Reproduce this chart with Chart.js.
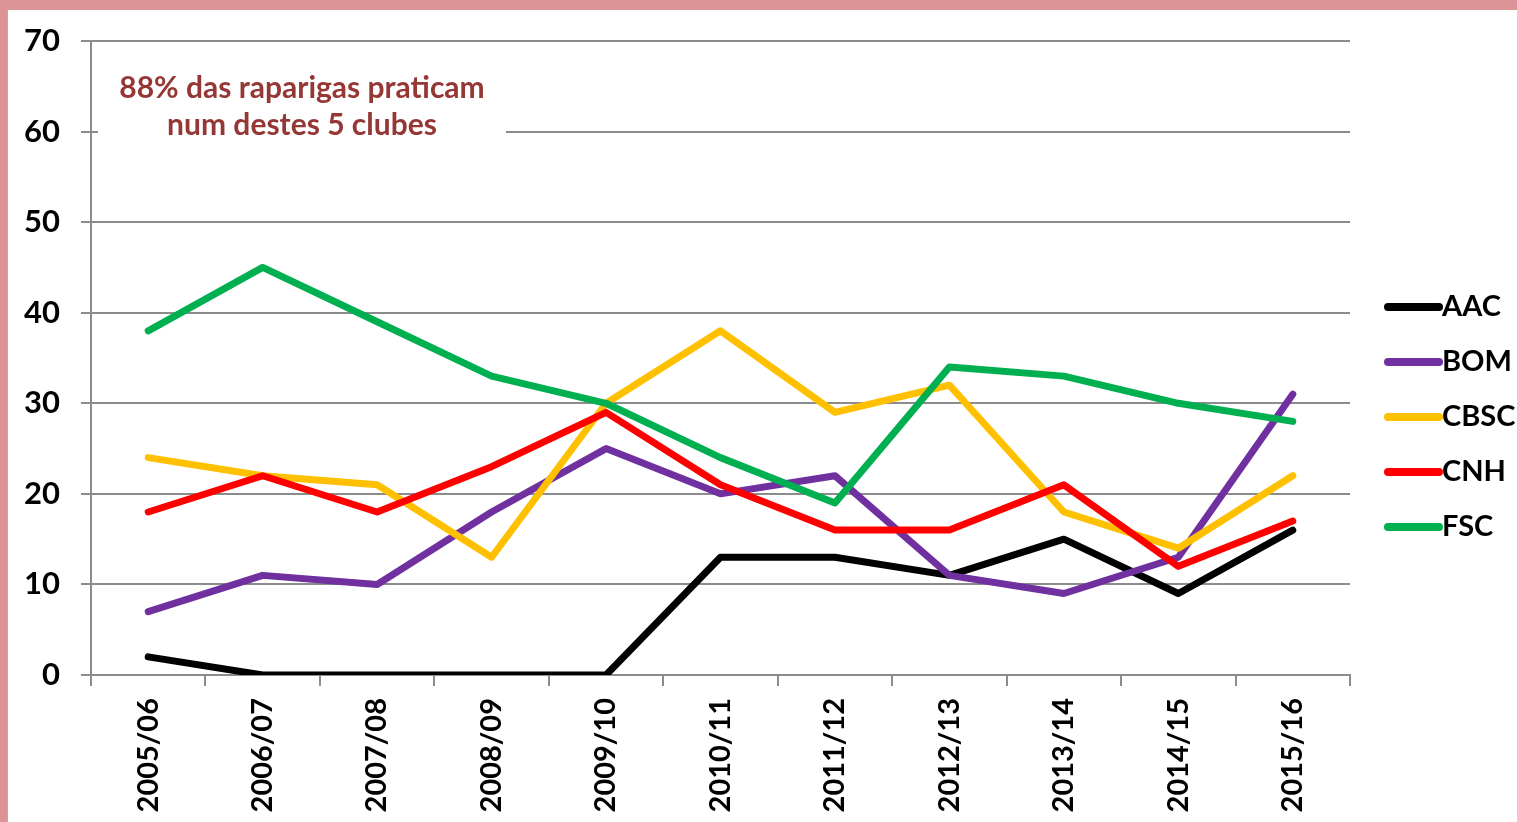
<!DOCTYPE html>
<html>
<head>
<meta charset="utf-8">
<script src="https://cdn.jsdelivr.net/npm/chart.js@4"></script>
<style>
  html, body { margin: 0; padding: 0; background: #dc9497; width: 1517px; height: 822px; overflow: hidden; }
  #wrap { position: absolute; left: 7px; top: 10px; width: 1510px; height: 812px; background: #fff; border-left: 1px solid #b0b0b0; box-sizing: border-box; }
</style>
</head>
<body>
<div id="wrap"><canvas id="chart"></canvas></div>
<script>
// ---- data ----
const seasons = ['2005/06', '2006/07', '2007/08', '2008/09', '2009/10', '2010/11', '2011/12', '2012/13', '2013/14', '2014/15', '2015/16'];
const aac  = [2, 0, 0, 0, 0, 13, 13, 11, 15, 9, 16];
const bom  = [7, 11, 10, 18, 25, 20, 22, 11, 9, 13, 31];
const cbsc = [24, 22, 21, 13, 30, 38, 29, 32, 18, 14, 22];
const cnh  = [18, 22, 18, 23, 29, 21, 16, 16, 21, 12, 17];
const fsc  = [38, 45, 39, 33, 30, 24, 19, 34, 33, 30, 28];
const clubNames = ['AAC', 'BOM', 'CBSC', 'CNH', 'FSC'];
const clubColors = ['#000000', '#7030a0', '#ffc000', '#ff0000', '#00b050'];
const yTicks = [0, 10, 20, 30, 40, 50, 60, 70];
const noteLines = ['88% das raparigas praticam', 'num destes 5 clubes'];

const FONT = 'Lato, "Open Sans", sans-serif';
const GRID = '#8c8c8c';

// Excel draws later series on top; chart.js draws lower "order" on top
const datasets = [aac, bom, cbsc, cnh, fsc].map((vals, i) => ({
    label: clubNames[i],
    data: vals,
    borderColor: clubColors[i],
    backgroundColor: clubColors[i],
    borderWidth: 7,
    pointRadius: 0,
    tension: 0,
    borderCapStyle: 'round',
    borderJoinStyle: 'round',
    order: clubNames.length - i
}));

// white box with the note, painted over the gridlines
const notePlugin = {
    id: 'note',
    beforeDatasetsDraw(chart) {
        const { ctx, chartArea } = chart;
        ctx.save();
        ctx.fillStyle = '#fff';
        ctx.fillRect(chartArea.left + 7, chartArea.top + 18, 408, 95);
        ctx.fillStyle = '#953735';
        ctx.font = 'bold 30px ' + FONT;
        ctx.textAlign = 'center';
        ctx.textBaseline = 'middle';
        const cx = chartArea.left + 211;
        noteLines.forEach((t, i) => ctx.fillText(t, cx, chartArea.top + 47 + i * 37));
        ctx.restore();
    }
};

// legend on the right, line sample touching the label like in Excel
const legendPlugin = {
    id: 'sideLegend',
    afterDraw(chart) {
        const { ctx, chartArea } = chart;
        ctx.save();
        ctx.font = 'bold 29px ' + FONT;
        ctx.textBaseline = 'middle';
        chart.data.datasets.forEach((ds, i) => {
            const y = chartArea.top + 266 + i * 55;
            const x0 = chartArea.right + 38;
            ctx.strokeStyle = ds.borderColor;
            ctx.lineWidth = 8;
            ctx.lineCap = 'round';
            ctx.beginPath();
            ctx.moveTo(x0, y);
            ctx.lineTo(x0 + 51, y);
            ctx.stroke();
            ctx.fillStyle = '#000';
            ctx.fillText(ds.label, x0 + 54, y);
        });
        ctx.restore();
    }
};

new Chart(document.getElementById('chart'), {
    type: 'line',
    data: { labels: seasons, datasets },
    plugins: [notePlugin, legendPlugin],
    options: {
        responsive: true,
        maintainAspectRatio: false,
        animation: false,
        layout: { padding: { top: 31, right: 167, left: 0, bottom: 0 } },
        plugins: { legend: { display: false }, tooltip: { enabled: false } },
        scales: {
            x: {
                offset: true,
                grid: { offset: true, drawOnChartArea: false, color: GRID, lineWidth: 2, tickLength: 11 },
                border: { color: GRID, width: 2 },
                ticks: {
                    color: '#000', font: { family: FONT, size: 29, weight: 'bold' },
                    minRotation: 90, maxRotation: 90, padding: 12, autoSkip: false
                },
                afterFit(scale) { scale.height = 147; }
            },
            y: {
                min: 0, max: 70,
                afterBuildTicks(scale) { scale.ticks = yTicks.map(v => ({ value: v })); },
                grid: { color: GRID, lineWidth: 2, tickLength: 10 },
                border: { color: GRID, width: 2 },
                ticks: { color: '#000', font: { family: FONT, size: 31, weight: 'bold' }, padding: 21 },
                afterFit(scale) { scale.width = 83; scale.paddingTop = 0; scale.paddingBottom = 0; }
            }
        }
    }
});
</script>
</body>
</html>
